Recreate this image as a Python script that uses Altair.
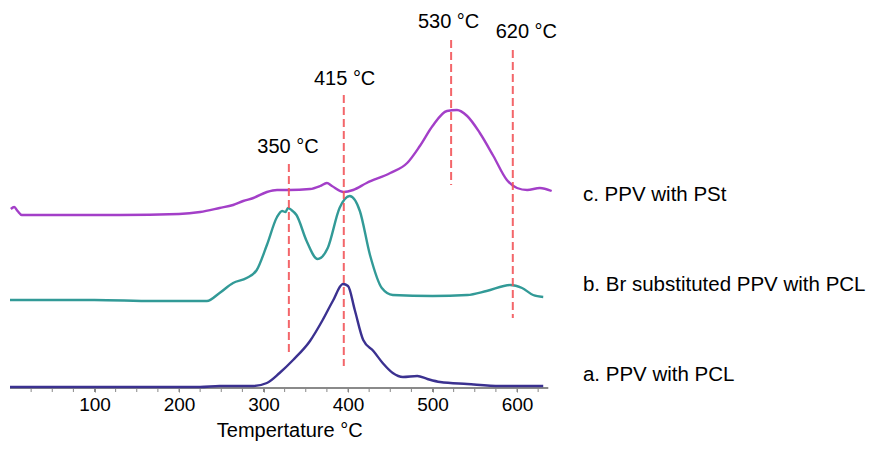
import altair as alt
import pandas as pd

# ---- data (x: temperature axis units, y: vertical offset units) ----
c_x = [1, 5, 9, 14, 60, 130, 200, 225, 248, 264, 276, 288, 304, 316, 330, 355, 367, 375, 381,
       395, 406, 422, 450, 470, 485, 500, 517, 529, 541, 556, 572, 588, 600, 612, 627, 641]
c_y = [179, 181, 177, 173, 173, 173, 174, 176, 180, 183, 187, 190, 196, 198, 198, 199, 202, 205, 202,
       196, 198, 205, 215, 225, 242, 262, 277, 278, 272, 255, 232, 208, 200, 198, 200, 197]

b_x = [0, 100, 170, 233, 248, 264, 280, 292, 304, 316, 322, 326, 329, 333, 339, 351, 364, 376,
       390, 402, 414, 426, 440, 453, 500, 541, 564, 592, 606, 619, 631]
b_y = [88, 88, 87, 87, 95, 105, 110, 118, 143, 171, 177, 176, 180, 178, 173, 147, 129, 140,
       180, 192, 177, 133, 100, 93, 92, 93, 97, 103, 100, 93, 91]

a_x = [0, 225, 248, 288, 304, 319, 335, 355, 370, 382, 394, 400, 408, 418, 430, 441, 453, 465,
       482, 494, 509, 541, 580, 631]
a_y = [1, 1, 2, 2, 5, 15, 28, 47, 68, 87, 104, 102, 78, 48, 37, 25, 15, 11,
       12, 9, 6, 4, 2, 2]

series_names = ["a", "b", "c"]
series_colors = ["#3B3190", "#329A97", "#A33FC8"]
series_labels = ["a. PPV with PCL", "b. Br substituted PPV with PCL", "c. PPV with PSt"]
series_label_y = [7, 97, 187]
series_label_x = 678

rule_x = [330, 395, 522, 595]
rule_top = [224, 293, 348, 338]
rule_bottom = [35, 22, 203, 70]
peak_labels = ["350 °C", "415 °C", "530 °C", "620 °C"]
peak_label_x = [329, 396, 519, 611]
peak_label_y = [235, 303, 360, 350]

axis_range = [0, 637]
label_values = [100, 200, 300, 400, 500, 600]
minor_ticks = list(range(25, 626, 25))
axis_title = "Tempertature °C"
axis_title_pos = (331, -49)

FONT = "Liberation Sans"

# ---- tables ----
rows = []
for name, xs_, ys_ in [("a", a_x, a_y), ("b", b_x, b_y), ("c", c_x, c_y)]:
    for i, (xv, yv) in enumerate(zip(xs_, ys_)):
        rows.append({"series": name, "x": xv, "y": yv, "i": i})
curves = pd.DataFrame(rows)

rules = pd.DataFrame({"x": rule_x, "top": rule_top, "bottom": rule_bottom})
peaks = pd.DataFrame({"x": peak_label_x, "y": peak_label_y, "t": peak_labels})
slabels = pd.DataFrame({"x": [series_label_x] * 3, "y": series_label_y, "t": series_labels})
axis_df = pd.DataFrame({"x": [axis_range[0]], "x2": [axis_range[1]], "y": [0]})
ticks_df = pd.DataFrame({"x": minor_ticks, "y": [0] * len(minor_ticks), "y2": [-4] * len(minor_ticks)})
title_df = pd.DataFrame({"x": [axis_title_pos[0]], "y": [axis_title_pos[1]], "t": [axis_title]})

xs = alt.Scale(domain=[0, 1017.7], nice=False, zero=False)
ys = alt.Scale(domain=[0, 380], nice=False, zero=False)

x_axis = alt.Axis(
    values=label_values, format="d",
    domain=False, grid=False, tickSize=4, tickColor="#888888", tickWidth=1,
    labelFontSize=19, labelFont=FONT, labelColor="black", labelPadding=3,
    labelOverlap=False, labelFlush=False, title=None,
)

axis_line = alt.Chart(axis_df).mark_rule(color="#8a8a8a", strokeWidth=2).encode(
    x=alt.X("x:Q", scale=xs, axis=x_axis),
    x2="x2:Q",
    y=alt.Y("y:Q", scale=ys, axis=None),
)

tick_marks = alt.Chart(ticks_df).mark_rule(color="#888888", strokeWidth=1).encode(
    x=alt.X("x:Q", scale=xs, axis=x_axis),
    y=alt.Y("y:Q", scale=ys, axis=None),
    y2="y2:Q",
)

lines = alt.Chart(curves).mark_line(strokeWidth=2.4, interpolate="monotone").encode(
    x=alt.X("x:Q", scale=xs, axis=x_axis),
    y=alt.Y("y:Q", scale=ys, axis=None),
    color=alt.Color("series:N", scale=alt.Scale(domain=series_names, range=series_colors), legend=None),
    order="i:Q",
)

dashes = alt.Chart(rules).mark_rule(color="#F2555A", strokeWidth=2, strokeDash=[8, 4], opacity=0.9).encode(
    x=alt.X("x:Q", scale=xs, axis=x_axis),
    y=alt.Y("top:Q", scale=ys, axis=None),
    y2="bottom:Q",
)

peak_text = alt.Chart(peaks).mark_text(
    font=FONT, fontSize=20, align="center", baseline="alphabetic", color="black"
).encode(x=alt.X("x:Q", scale=xs, axis=x_axis), y=alt.Y("y:Q", scale=ys, axis=None), text="t:N")

series_text = alt.Chart(slabels).mark_text(
    font=FONT, fontSize=20.5, align="left", baseline="alphabetic", color="black"
).encode(x=alt.X("x:Q", scale=xs, axis=x_axis), y=alt.Y("y:Q", scale=ys, axis=None), text="t:N")

title_text = alt.Chart(title_df).mark_text(
    font=FONT, fontSize=20, align="center", baseline="alphabetic", color="black"
).encode(x=alt.X("x:Q", scale=xs, axis=x_axis), y=alt.Y("y:Q", scale=ys, axis=None), text="t:N")

chart = alt.layer(axis_line, tick_marks, lines, dashes, peak_text, series_text, title_text).properties(
    width=860, height=380,
    autosize=alt.AutoSizeParams(type="none"),
    padding={"left": 2, "top": 0, "right": 0, "bottom": 53},
    background="white",
).configure_view(strokeWidth=0)

chart.save("out.html", embed_options={"renderer": "svg", "actions": False})
